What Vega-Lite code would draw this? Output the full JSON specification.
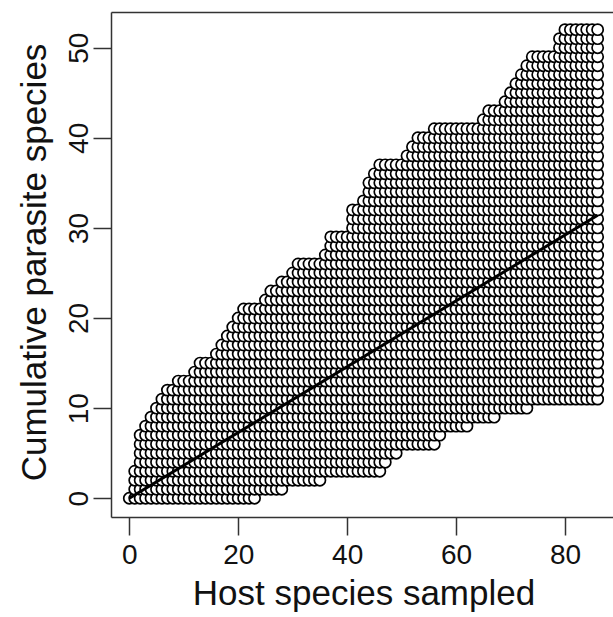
{
  "$schema": "https://vega.github.io/schema/vega-lite/v6.json",
  "autosize": {"type": "none"},
  "padding": {"left": 111, "top": 12, "right": 0, "bottom": 100},
  "width": 502,
  "height": 505,
  "background": "white",
  "config": {"view": {"stroke": null}, "font": "Liberation Sans"},
  "datasets": {
    "pts": [
      {"x":0,"y":[0]},
      {"x":1,"y":[0,1,2,3]},
      {"x":2,"y":[0,1,2,3,4,5,6,7]},
      {"x":3,"y":[0,1,2,3,4,5,6,7,8]},
      {"x":4,"y":[0,1,2,3,4,5,6,7,8,9]},
      {"x":5,"y":[0,1,2,3,4,5,6,7,8,9,10]},
      {"x":6,"y":[0,1,2,3,4,5,6,7,8,9,10,11]},
      {"x":7,"y":[0,1,2,3,4,5,6,7,8,9,10,11,12]},
      {"x":8,"y":[0,1,2,3,4,5,6,7,8,9,10,11,12]},
      {"x":9,"y":[0,1,2,3,4,5,6,7,8,9,10,11,12,13]},
      {"x":10,"y":[0,1,2,3,4,5,6,7,8,9,10,11,12,13]},
      {"x":11,"y":[0,1,2,3,4,5,6,7,8,9,10,11,12,13]},
      {"x":12,"y":[0,1,2,3,4,5,6,7,8,9,10,11,12,13,14]},
      {"x":13,"y":[0,1,2,3,4,5,6,7,8,9,10,11,12,13,14,15]},
      {"x":14,"y":[0,1,2,3,4,5,6,7,8,9,10,11,12,13,14,15]},
      {"x":15,"y":[0,1,2,3,4,5,6,7,8,9,10,11,12,13,14,15]},
      {"x":16,"y":[0,1,2,3,4,5,6,7,8,9,10,11,12,13,14,15,16]},
      {"x":17,"y":[0,1,2,3,4,5,6,7,8,9,10,11,12,13,14,15,16,17]},
      {"x":18,"y":[0,1,2,3,4,5,6,7,8,9,10,11,12,13,14,15,16,17,18]},
      {"x":19,"y":[0,1,2,3,4,5,6,7,8,9,10,11,12,13,14,15,16,17,18,19]},
      {"x":20,"y":[0,1,2,3,4,5,6,7,8,9,10,11,12,13,14,15,16,17,18,19,20]},
      {"x":21,"y":[0,1,2,3,4,5,6,7,8,9,10,11,12,13,14,15,16,17,18,19,20,21]},
      {"x":22,"y":[0,1,2,3,4,5,6,7,8,9,10,11,12,13,14,15,16,17,18,19,20,21]},
      {"x":23,"y":[0,1,2,3,4,5,6,7,8,9,10,11,12,13,14,15,16,17,18,19,20,21]},
      {"x":24,"y":[1,2,3,4,5,6,7,8,9,10,11,12,13,14,15,16,17,18,19,20,21]},
      {"x":25,"y":[1,2,3,4,5,6,7,8,9,10,11,12,13,14,15,16,17,18,19,20,21,22]},
      {"x":26,"y":[1,2,3,4,5,6,7,8,9,10,11,12,13,14,15,16,17,18,19,20,21,22,23]},
      {"x":27,"y":[1,2,3,4,5,6,7,8,9,10,11,12,13,14,15,16,17,18,19,20,21,22,23]},
      {"x":28,"y":[1,2,3,4,5,6,7,8,9,10,11,12,13,14,15,16,17,18,19,20,21,22,23,24]},
      {"x":29,"y":[2,3,4,5,6,7,8,9,10,11,12,13,14,15,16,17,18,19,20,21,22,23,24]},
      {"x":30,"y":[2,3,4,5,6,7,8,9,10,11,12,13,14,15,16,17,18,19,20,21,22,23,24,25]},
      {"x":31,"y":[2,3,4,5,6,7,8,9,10,11,12,13,14,15,16,17,18,19,20,21,22,23,24,25,26]},
      {"x":32,"y":[2,3,4,5,6,7,8,9,10,11,12,13,14,15,16,17,18,19,20,21,22,23,24,25,26]},
      {"x":33,"y":[2,3,4,5,6,7,8,9,10,11,12,13,14,15,16,17,18,19,20,21,22,23,24,25,26]},
      {"x":34,"y":[2,3,4,5,6,7,8,9,10,11,12,13,14,15,16,17,18,19,20,21,22,23,24,25,26]},
      {"x":35,"y":[2,3,4,5,6,7,8,9,10,11,12,13,14,15,16,17,18,19,20,21,22,23,24,25,26]},
      {"x":36,"y":[3,4,5,6,7,8,9,10,11,12,13,14,15,16,17,18,19,20,21,22,23,24,25,26,27]},
      {"x":37,"y":[3,4,5,6,7,8,9,10,11,12,13,14,15,16,17,18,19,20,21,22,23,24,25,26,27,28,29]},
      {"x":38,"y":[3,4,5,6,7,8,9,10,11,12,13,14,15,16,17,18,19,20,21,22,23,24,25,26,27,28,29]},
      {"x":39,"y":[3,4,5,6,7,8,9,10,11,12,13,14,15,16,17,18,19,20,21,22,23,24,25,26,27,28,29]},
      {"x":40,"y":[3,4,5,6,7,8,9,10,11,12,13,14,15,16,17,18,19,20,21,22,23,24,25,26,27,28,29]},
      {"x":41,"y":[3,4,5,6,7,8,9,10,11,12,13,14,15,16,17,18,19,20,21,22,23,24,25,26,27,28,29,30,31,32]},
      {"x":42,"y":[3,4,5,6,7,8,9,10,11,12,13,14,15,16,17,18,19,20,21,22,23,24,25,26,27,28,29,30,31,32]},
      {"x":43,"y":[3,4,5,6,7,8,9,10,11,12,13,14,15,16,17,18,19,20,21,22,23,24,25,26,27,28,29,30,31,32,33]},
      {"x":44,"y":[3,4,5,6,7,8,9,10,11,12,13,14,15,16,17,18,19,20,21,22,23,24,25,26,27,28,29,30,31,32,33,34,35]},
      {"x":45,"y":[3,4,5,6,7,8,9,10,11,12,13,14,15,16,17,18,19,20,21,22,23,24,25,26,27,28,29,30,31,32,33,34,35,36]},
      {"x":46,"y":[3,4,5,6,7,8,9,10,11,12,13,14,15,16,17,18,19,20,21,22,23,24,25,26,27,28,29,30,31,32,33,34,35,36,37]},
      {"x":47,"y":[4,5,6,7,8,9,10,11,12,13,14,15,16,17,18,19,20,21,22,23,24,25,26,27,28,29,30,31,32,33,34,35,36,37]},
      {"x":48,"y":[5,6,7,8,9,10,11,12,13,14,15,16,17,18,19,20,21,22,23,24,25,26,27,28,29,30,31,32,33,34,35,36,37]},
      {"x":49,"y":[5,6,7,8,9,10,11,12,13,14,15,16,17,18,19,20,21,22,23,24,25,26,27,28,29,30,31,32,33,34,35,36,37]},
      {"x":50,"y":[6,7,8,9,10,11,12,13,14,15,16,17,18,19,20,21,22,23,24,25,26,27,28,29,30,31,32,33,34,35,36,37]},
      {"x":51,"y":[6,7,8,9,10,11,12,13,14,15,16,17,18,19,20,21,22,23,24,25,26,27,28,29,30,31,32,33,34,35,36,37,38]},
      {"x":52,"y":[6,7,8,9,10,11,12,13,14,15,16,17,18,19,20,21,22,23,24,25,26,27,28,29,30,31,32,33,34,35,36,37,38,39]},
      {"x":53,"y":[6,7,8,9,10,11,12,13,14,15,16,17,18,19,20,21,22,23,24,25,26,27,28,29,30,31,32,33,34,35,36,37,38,39,40]},
      {"x":54,"y":[6,7,8,9,10,11,12,13,14,15,16,17,18,19,20,21,22,23,24,25,26,27,28,29,30,31,32,33,34,35,36,37,38,39,40]},
      {"x":55,"y":[6,7,8,9,10,11,12,13,14,15,16,17,18,19,20,21,22,23,24,25,26,27,28,29,30,31,32,33,34,35,36,37,38,39,40]},
      {"x":56,"y":[6,7,8,9,10,11,12,13,14,15,16,17,18,19,20,21,22,23,24,25,26,27,28,29,30,31,32,33,34,35,36,37,38,39,40,41]},
      {"x":57,"y":[7,8,9,10,11,12,13,14,15,16,17,18,19,20,21,22,23,24,25,26,27,28,29,30,31,32,33,34,35,36,37,38,39,40,41]},
      {"x":58,"y":[8,9,10,11,12,13,14,15,16,17,18,19,20,21,22,23,24,25,26,27,28,29,30,31,32,33,34,35,36,37,38,39,40,41]},
      {"x":59,"y":[8,9,10,11,12,13,14,15,16,17,18,19,20,21,22,23,24,25,26,27,28,29,30,31,32,33,34,35,36,37,38,39,40,41]},
      {"x":60,"y":[8,9,10,11,12,13,14,15,16,17,18,19,20,21,22,23,24,25,26,27,28,29,30,31,32,33,34,35,36,37,38,39,40,41]},
      {"x":61,"y":[8,9,10,11,12,13,14,15,16,17,18,19,20,21,22,23,24,25,26,27,28,29,30,31,32,33,34,35,36,37,38,39,40,41]},
      {"x":62,"y":[8,9,10,11,12,13,14,15,16,17,18,19,20,21,22,23,24,25,26,27,28,29,30,31,32,33,34,35,36,37,38,39,40,41]},
      {"x":63,"y":[9,10,11,12,13,14,15,16,17,18,19,20,21,22,23,24,25,26,27,28,29,30,31,32,33,34,35,36,37,38,39,40,41]},
      {"x":64,"y":[9,10,11,12,13,14,15,16,17,18,19,20,21,22,23,24,25,26,27,28,29,30,31,32,33,34,35,36,37,38,39,40,41]},
      {"x":65,"y":[9,10,11,12,13,14,15,16,17,18,19,20,21,22,23,24,25,26,27,28,29,30,31,32,33,34,35,36,37,38,39,40,41,42]},
      {"x":66,"y":[9,10,11,12,13,14,15,16,17,18,19,20,21,22,23,24,25,26,27,28,29,30,31,32,33,34,35,36,37,38,39,40,41,42,43]},
      {"x":67,"y":[9,10,11,12,13,14,15,16,17,18,19,20,21,22,23,24,25,26,27,28,29,30,31,32,33,34,35,36,37,38,39,40,41,42,43]},
      {"x":68,"y":[10,11,12,13,14,15,16,17,18,19,20,21,22,23,24,25,26,27,28,29,30,31,32,33,34,35,36,37,38,39,40,41,42,43]},
      {"x":69,"y":[10,11,12,13,14,15,16,17,18,19,20,21,22,23,24,25,26,27,28,29,30,31,32,33,34,35,36,37,38,39,40,41,42,43,44]},
      {"x":70,"y":[10,11,12,13,14,15,16,17,18,19,20,21,22,23,24,25,26,27,28,29,30,31,32,33,34,35,36,37,38,39,40,41,42,43,44,45]},
      {"x":71,"y":[10,11,12,13,14,15,16,17,18,19,20,21,22,23,24,25,26,27,28,29,30,31,32,33,34,35,36,37,38,39,40,41,42,43,44,45,46]},
      {"x":72,"y":[10,11,12,13,14,15,16,17,18,19,20,21,22,23,24,25,26,27,28,29,30,31,32,33,34,35,36,37,38,39,40,41,42,43,44,45,46,47]},
      {"x":73,"y":[10,11,12,13,14,15,16,17,18,19,20,21,22,23,24,25,26,27,28,29,30,31,32,33,34,35,36,37,38,39,40,41,42,43,44,45,46,47,48]},
      {"x":74,"y":[11,12,13,14,15,16,17,18,19,20,21,22,23,24,25,26,27,28,29,30,31,32,33,34,35,36,37,38,39,40,41,42,43,44,45,46,47,48,49]},
      {"x":75,"y":[11,12,13,14,15,16,17,18,19,20,21,22,23,24,25,26,27,28,29,30,31,32,33,34,35,36,37,38,39,40,41,42,43,44,45,46,47,48,49]},
      {"x":76,"y":[11,12,13,14,15,16,17,18,19,20,21,22,23,24,25,26,27,28,29,30,31,32,33,34,35,36,37,38,39,40,41,42,43,44,45,46,47,48,49]},
      {"x":77,"y":[11,12,13,14,15,16,17,18,19,20,21,22,23,24,25,26,27,28,29,30,31,32,33,34,35,36,37,38,39,40,41,42,43,44,45,46,47,48,49]},
      {"x":78,"y":[11,12,13,14,15,16,17,18,19,20,21,22,23,24,25,26,27,28,29,30,31,32,33,34,35,36,37,38,39,40,41,42,43,44,45,46,47,48,49]},
      {"x":79,"y":[11,12,13,14,15,16,17,18,19,20,21,22,23,24,25,26,27,28,29,30,31,32,33,34,35,36,37,38,39,40,41,42,43,44,45,46,47,48,49,50,51]},
      {"x":80,"y":[11,12,13,14,15,16,17,18,19,20,21,22,23,24,25,26,27,28,29,30,31,32,33,34,35,36,37,38,39,40,41,42,43,44,45,46,47,48,49,50,51,52]},
      {"x":81,"y":[11,12,13,14,15,16,17,18,19,20,21,22,23,24,25,26,27,28,29,30,31,32,33,34,35,36,37,38,39,40,41,42,43,44,45,46,47,48,49,50,51,52]},
      {"x":82,"y":[11,12,13,14,15,16,17,18,19,20,21,22,23,24,25,26,27,28,29,30,31,32,33,34,35,36,37,38,39,40,41,42,43,44,45,46,47,48,49,50,51,52]},
      {"x":83,"y":[11,12,13,14,15,16,17,18,19,20,21,22,23,24,25,26,27,28,29,30,31,32,33,34,35,36,37,38,39,40,41,42,43,44,45,46,47,48,49,50,51,52]},
      {"x":84,"y":[11,12,13,14,15,16,17,18,19,20,21,22,23,24,25,26,27,28,29,30,31,32,33,34,35,36,37,38,39,40,41,42,43,44,45,46,47,48,49,50,51,52]},
      {"x":85,"y":[11,12,13,14,15,16,17,18,19,20,21,22,23,24,25,26,27,28,29,30,31,32,33,34,35,36,37,38,39,40,41,42,43,44,45,46,47,48,49,50,51,52]},
      {"x":86,"y":[11,12,13,14,15,16,17,18,19,20,21,22,23,24,25,26,27,28,29,30,31,32,33,34,35,36,37,38,39,40,41,42,43,44,45,46,47,48,49,50,51,52]}
    ],
    "mean": [
      {"x":0,"y":0},
      {"x":86,"y":31.4}
    ]
  },
  "encoding": {
    "y": {
      "field": "y",
      "type": "quantitative",
      "scale": {"domain": [-2.08, 53.96], "nice": false, "zero": false},
      "axis": {
        "orient": "left",
        "values": [0, 10, 20, 30, 40, 50],
        "grid": false,
        "domain": true,
        "domainColor": "#333333",
        "domainWidth": 1.5,
        "ticks": true,
        "tickColor": "#333333",
        "tickWidth": 1.5,
        "tickSize": 18,
        "labelAngle": -90,
        "labelAlign": "center",
        "labelBaseline": "alphabetic",
        "labelPadding": 6,
        "labelFont": "Liberation Sans",
        "labelFontSize": 28,
        "labelColor": "#111111",
        "labelFlush": false,
        "labelOverlap": false,
        "title": "Cumulative parasite species",
        "titleFont": "Liberation Sans",
        "titleFontSize": 35,
        "titleFontWeight": "normal",
        "titleColor": "#111111",
        "titleAngle": -90,
        "titleAlign": "center",
        "titleBaseline": "alphabetic",
        "titleX": -66,
        "titleY": 250
      }
    }
  },
  "layer": [
    {
      "data": {"name": "pts"},
      "transform": [{"flatten": ["y"]}],
      "mark": {"type": "circle", "fill": "white", "stroke": "black", "strokeWidth": 1.7, "size": 125, "opacity": 1},
      "encoding": {
        "x": {
          "field": "x",
          "type": "quantitative",
          "scale": {"domain": [-3.36, 88.82], "nice": false, "zero": false},
          "axis": {
            "orient": "bottom",
            "values": [0, 20, 40, 60, 80],
            "grid": false,
            "domain": true,
            "domainColor": "#333333",
            "domainWidth": 1.5,
            "ticks": true,
            "tickColor": "#333333",
            "tickWidth": 1.5,
            "tickSize": 18,
            "labelPadding": 6,
            "labelFont": "Liberation Sans",
            "labelFontSize": 28,
            "labelColor": "#111111",
            "labelFlush": false,
            "labelOverlap": false,
            "title": "Host species sampled",
            "titleFont": "Liberation Sans",
            "titleFontSize": 35,
            "titleFontWeight": "normal",
            "titleColor": "#111111",
            "titleAlign": "center",
            "titleBaseline": "alphabetic",
            "titleX": 252.5,
            "titleY": 87
          }
        }
      }
    },
    {
      "data": {"name": "mean"},
      "mark": {"type": "line", "color": "black", "strokeWidth": 3},
      "encoding": {
        "x": {
          "field": "x",
          "type": "quantitative",
          "scale": {"domain": [-3.36, 88.82], "nice": false, "zero": false},
          "axis": {
            "orient": "top",
            "grid": false,
            "domain": true,
            "domainColor": "#333333",
            "domainWidth": 1.5,
            "ticks": false,
            "labels": false,
            "title": null
          }
        }
      }
    }
  ],
  "resolve": {"axis": {"x": "independent"}}
}
